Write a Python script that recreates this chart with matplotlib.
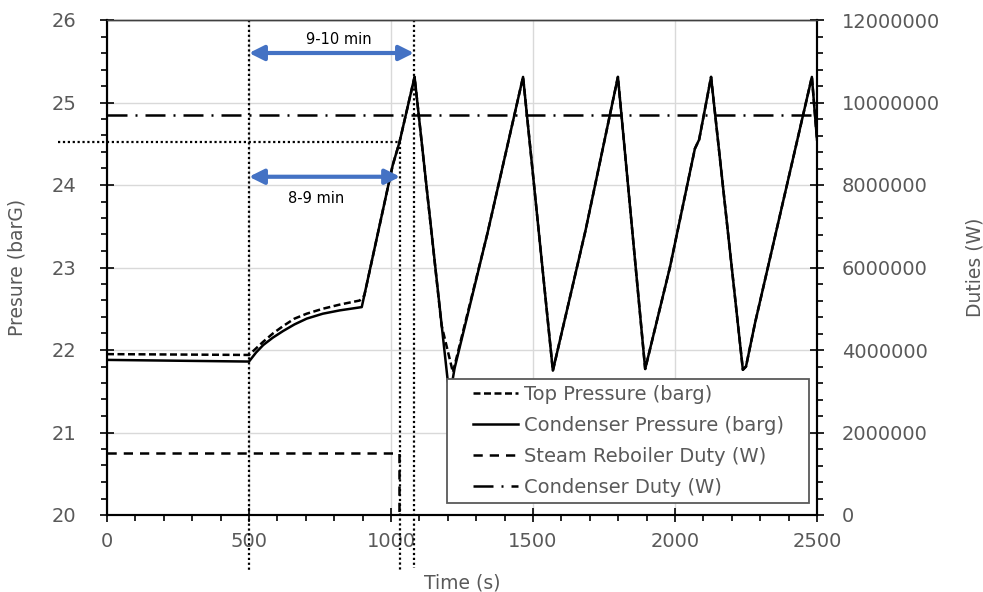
import matplotlib.pyplot as plt
import matplotlib.patches as patches
from matplotlib.ticker import MultipleLocator

plt.rcParams['font.family'] = ['DejaVu Sans']

# Condenser pressure (barg)
cond_time = [0, 500, 525, 550, 584, 620, 660, 703, 760, 819, 897, 1006, 1030, 1083,
             1200, 1210, 1224, 1340, 1465, 1570, 1685, 1799, 1895,
             1982, 2070, 2085, 2127, 2239, 2250, 2282, 2482, 2500]
cond_p = [21.88, 21.86, 21.97, 22.06, 22.15, 22.23, 22.31, 22.38, 22.44, 22.48, 22.52, 24.24, 24.52, 25.31,
          21.62, 21.5, 21.78, 23.42, 25.31, 21.75, 23.45, 25.31, 21.77,
          23.0, 24.44, 24.55, 25.31, 21.76, 21.8, 22.33, 25.31, 24.55]

# Top pressure (barg)
top_time = [0, 500, 525, 550, 584, 620, 660, 703, 760, 819, 890, 906, 1006, 1030, 1083,
            1178, 1218, 1340, 1465, 1570, 1685, 1799, 1895,
            1982, 2070, 2085, 2127, 2239, 2250, 2282, 2482, 2500]
top_p = [21.95, 21.94, 22.02, 22.1, 22.2, 22.29, 22.38, 22.44, 22.5, 22.55, 22.6, 22.66, 24.24, 24.52, 25.31,
         22.3, 21.73, 23.42, 25.31, 21.75, 23.45, 25.31, 21.77,
         23.0, 24.44, 24.55, 25.31, 21.76, 21.8, 22.33, 25.31, 24.55]

# Duties (W)
reb_time = [0, 1027, 1027, 2500]
reb_duty = [1500000, 1500000, 0, 0]
cd_time = [0, 2500]
cd_duty = [9700000, 9700000]

gray = '#595959'
blue = '#4472C4'

fig = plt.figure(figsize=(9.83, 5.92), dpi=100)
ax = fig.add_axes([107 / 983, 1 - 515 / 592, 710 / 983, 495 / 592])
ax2 = ax.twinx()

# pressures on the left axis
l1, = ax.plot(top_time, top_p, color='black', lw=1.8, linestyle=(0, (2.8, 1.4)), label='Top Pressure (barg)')
l2, = ax.plot(cond_time, cond_p, color='black', lw=1.8, label='Condenser Pressure (barg)')

# duties on the right axis
l3, = ax2.plot(reb_time, reb_duty, color='black', lw=1.8, linestyle=(0, (3.7, 2.8)), label='Steam Reboiler Duty (W)')
l4, = ax2.plot(cd_time, cd_duty, color='black', lw=1.8, linestyle=(0, (8, 3.2, 0.8, 3.2)), label='Condenser Duty (W)')

ax.set_xlim(0, 2500)
ax.set_ylim(20, 26)
ax2.set_ylim(0, 12000000)

ax.xaxis.set_major_locator(MultipleLocator(500))
ax.xaxis.set_minor_locator(MultipleLocator(100))
ax.yaxis.set_major_locator(MultipleLocator(1))
ax.yaxis.set_minor_locator(MultipleLocator(0.2))
ax2.yaxis.set_major_locator(MultipleLocator(2000000))
ax2.yaxis.set_minor_locator(MultipleLocator(400000))
ax2.ticklabel_format(axis='y', style='plain', useOffset=False)

ax.grid(True, which='major', color='#d9d9d9', lw=1)
ax.set_axisbelow(True)

ax.tick_params(axis='both', which='major', direction='inout', length=10, width=1.2,
               labelcolor=gray, labelsize=14)
ax.tick_params(axis='both', which='minor', direction='out', length=4.5, width=1.2)
ax.tick_params(axis='y', which='major', pad=17)
ax.tick_params(axis='x', which='major', pad=7)
ax2.tick_params(axis='y', which='major', direction='inout', length=10, width=1.2,
                labelcolor=gray, labelsize=14, pad=13)
ax2.tick_params(axis='y', which='minor', direction='out', length=4.5, width=1.2)

for a in (ax, ax2):
    for s in ('left', 'right', 'bottom'):
        a.spines[s].set_linewidth(1.5)
    a.spines['top'].set_color('#404040')
    a.spines['top'].set_linewidth(1)

ax.set_xlabel('Time (s)', color=gray, fontsize=13.5)
ax.set_ylabel('Presure (barG)', color=gray, fontsize=13.5)
ax2.set_ylabel('Duties (W)', color=gray, fontsize=13.5)
ax.xaxis.set_label_coords(0.5, -0.119)
ax.yaxis.set_label_coords(-0.113, 0.5)
ax2.yaxis.set_label_coords(1.2085, 0.5)

# dotted guide lines (they run past the axes)
dot = dict(color='black', lw=1.6, linestyle=(0, (1, 1.2)), clip_on=False)
ax.plot([500, 500], [26, 19.31], **dot)
ax.plot([1032, 1032], [24.52, 19.33], **dot)
ax.plot([1081, 1081], [26, 19.36], **dot)
ax.plot([-172, 1032], [24.52, 24.52], **dot)

# blue double arrows
arrow = dict(arrowstyle='<|-|>', color=blue, lw=3, mutation_scale=22, shrinkA=0, shrinkB=0)
ax.annotate('', xy=(500, 25.6), xytext=(1081, 25.6), arrowprops=arrow, annotation_clip=False)
ax.annotate('', xy=(500, 24.1), xytext=(1032, 24.1), arrowprops=arrow, annotation_clip=False)
ax.text(817, 25.76, '9-10 min', ha='center', va='center', fontsize=10.5)
ax.text(736, 23.84, '8-9 min', ha='center', va='center', fontsize=10.5)

# legend box drawn by hand so the padding matches
box = patches.Rectangle((447 / 983, 1 - 503 / 592), 362 / 983, 124 / 592, transform=fig.transFigure,
                        facecolor='white', edgecolor=gray, lw=1.3, zorder=15, clip_on=False)
ax2.add_patch(box)
leg = ax2.legend([l1, l2, l3, l4], [h.get_label() for h in (l1, l2, l3, l4)],
                 loc='upper left', bbox_to_anchor=(473 / 983, 1 - 385 / 592), bbox_transform=fig.transFigure,
                 frameon=False, borderpad=0, borderaxespad=0, handlelength=2.3, handletextpad=0.3,
                 labelspacing=0.62, fontsize=14, labelcolor=gray)
leg.set_zorder(20)

fig.savefig('out.png', dpi=100)
